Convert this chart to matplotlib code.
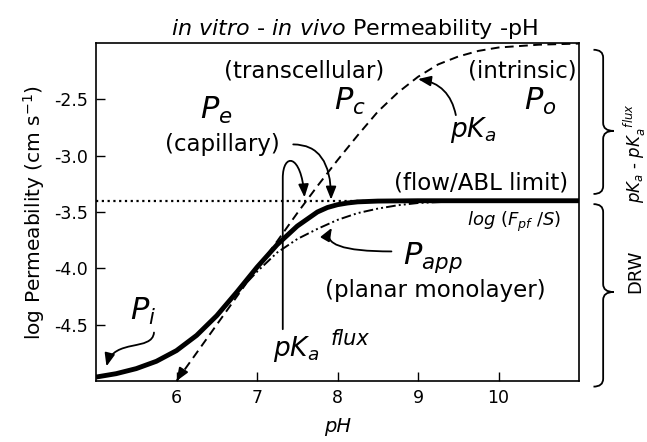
import numpy as np
import matplotlib
matplotlib.use("Agg")
import matplotlib.pyplot as plt
from matplotlib.path import Path
from matplotlib.patches import PathPatch, FancyArrowPatch

plt.rcParams['axes.unicode_minus'] = False
plt.rcParams['font.family'] = 'DejaVu Sans'

# effective permeability Pe (thick solid)
ph_pe = [5.0, 5.25, 5.5, 5.75, 6.0, 6.25, 6.5, 6.75, 7.0, 7.25, 7.5, 7.75,
         7.875, 8.0, 8.125, 8.25, 8.5, 9.0, 10.0, 11.0]
log_pe = [-4.965, -4.935, -4.89, -4.825, -4.73, -4.595, -4.42, -4.21, -3.99, -3.79,
          -3.625, -3.50, -3.46, -3.435, -3.42, -3.41, -3.403, -3.40, -3.40, -3.40]

# transcellular Pc (dashed)
ph_pc = [6.0, 6.25, 6.5, 6.75, 7.0, 7.25, 7.5, 7.75, 8.0, 8.25, 8.5, 8.75,
         9.0, 9.25, 9.5, 9.75, 10.0, 10.5, 11.0]
log_pc = [-5.0, -4.75, -4.50, -4.25, -4.00, -3.76, -3.51, -3.27, -3.04, -2.82,
          -2.61, -2.44, -2.30, -2.19, -2.12, -2.07, -2.04, -2.015, -2.005]

# apparent permeability Papp (dash-dot-dot)
ph_papp = [6.5, 6.75, 7.0, 7.25, 7.5, 7.75, 8.0, 8.25, 8.5, 8.75, 9.0, 9.5, 10.0, 11.0]
log_papp = [-4.42, -4.22, -4.03, -3.86, -3.74, -3.65, -3.57, -3.51, -3.47, -3.44,
            -3.42, -3.405, -3.40, -3.40]

abl_limit = -3.40

fig = plt.figure(figsize=(6.47, 4.42), dpi=100)
ax = fig.add_axes([0.1484, 0.138, 0.7465, 0.7647])

ax.axhline(abl_limit, color='black', lw=1.6, ls=(0, (1, 1.6)))
ax.plot(ph_pc, log_pc, color='black', lw=1.4, dashes=(4.5, 2.8))
ax.plot(ph_papp, log_papp, color='black', lw=1.4, dashes=(5, 1.6, 1, 1.6, 1, 1.6))
ax.plot(ph_pe, log_pe, color='black', lw=3.5, solid_capstyle='butt')

ax.set_xlim(5, 11)
ax.set_ylim(-5, -2)
ax.set_xticks([6, 7, 8, 9, 10])
ax.set_yticks([-4.5, -4.0, -3.5, -3.0, -2.5])
ax.set_yticklabels(['-4.5', '-4.0', '-3.5', '-3.0', '-2.5'])
ax.tick_params(direction='in', length=6.5, width=1, labelsize=12.5, pad=6)
for s in ax.spines.values():
    s.set_linewidth(1.2)

ax.set_title(r'$\it{in\ vitro}$ - $\it{in\ vivo}$ Permeability -pH', fontsize=16, pad=6, x=0.534)
ax.set_xlabel('pH', fontsize=14, style='italic', labelpad=7)
ax.set_ylabel(r'log Permeability (cm s$^{-1}$)', fontsize=14.5, labelpad=5)

lab = dict(ha='center', va='center', fontsize=16.5)
big = dict(ha='center', va='center', fontsize=22)
ax.text(7.58, -2.25, '(transcellular)', **lab)
ax.text(8.15, -2.52, r'$P_c$', **big)
ax.text(10.29, -2.25, '(intrinsic)', **lab)
ax.text(10.52, -2.52, r'$P_o$', **big)
ax.text(9.68, -2.77, r'$pK_a$', ha='center', va='center', fontsize=19)
ax.text(6.5, -2.6, r'$P_e$', **big)
ax.text(6.57, -2.9, '(capillary)', **lab)
ax.text(9.78, -3.24, '(flow/ABL limit)', **lab)
ax.text(10.2, -3.585, r'$log\ (F_{pf}\ /S)$', ha='center', va='center', fontsize=13)
ax.text(9.18, -3.9, r'$P_{app}$', **big)
ax.text(9.21, -4.2, '(planar monolayer)', **lab)
ax.text(7.49, -4.72, r'$pK_a$', ha='center', va='center', fontsize=19)
ax.text(8.16, -4.63, 'flux', ha='center', va='center', fontsize=15, style='italic')
ax.text(5.59, -4.38, r'$P_i$', **big)

arr = dict(arrowstyle='-|>,head_length=0.55,head_width=0.22', color='black', lw=1.3,
           mutation_scale=14, shrinkA=0, shrinkB=0)

ax.annotate('', xy=(9.0, -2.32), xytext=(9.47, -2.64),
            arrowprops=dict(connectionstyle='arc3,rad=0.35', **arr))
ax.annotate('', xy=(7.92, -3.39), xytext=(7.45, -2.90),
            arrowprops=dict(connectionstyle='angle3,angleA=0,angleB=90', **arr))
ax.annotate('', xy=(7.93, -3.64), xytext=(8.67, -3.85),
            arrowprops=dict(connectionstyle='angle3,angleA=180,angleB=60', **arr))
ax.annotate('', xy=(6.0, -5.0), xytext=(6.07, -4.92), annotation_clip=False,
            arrowprops=dict(**arr))

hook = Path([(7.32, -4.54), (7.32, -3.2), (7.32, -2.97), (7.55, -2.98), (7.59, -3.37)],
            [Path.MOVETO, Path.LINETO, Path.CURVE4, Path.CURVE4, Path.CURVE4])
ax.add_patch(FancyArrowPatch(path=hook, **arr))
pi_path = Path([(5.72, -4.57), (5.70, -4.74), (5.22, -4.62), (5.13, -4.87)],
               [Path.MOVETO, Path.CURVE4, Path.CURVE4, Path.CURVE4])
ax.add_patch(FancyArrowPatch(path=pi_path, **arr))


def brace(y0, y1, ym, x0=11.18, x1=11.30, x2=11.43, d=0.07):
    verts = [(x0, y0), (x1, y0), (x1, y0 - d), (x1, ym + d), (x1, ym), (x2, ym),
             (x1, ym), (x1, ym - d), (x1, y1 + d), (x1, y1), (x0, y1)]
    codes = [Path.MOVETO, Path.CURVE3, Path.CURVE3, Path.LINETO, Path.CURVE3, Path.CURVE3,
             Path.CURVE3, Path.CURVE3, Path.LINETO, Path.CURVE3, Path.CURVE3]
    ax.add_patch(PathPatch(Path(verts, codes), fill=False, lw=1.3, clip_on=False))


brace(-2.06, -3.34, -2.78)
brace(-3.43, -5.05, -4.21)
ax.text(11.70, -2.98, r'$pK_a$ - $pK_a^{\ \ flux}$', rotation=90, ha='center', va='center',
        fontsize=12, clip_on=False)
ax.text(11.70, -4.03, 'DRW', rotation=90, ha='center', va='center', fontsize=13, clip_on=False)

fig.savefig('out.png', dpi=100)
